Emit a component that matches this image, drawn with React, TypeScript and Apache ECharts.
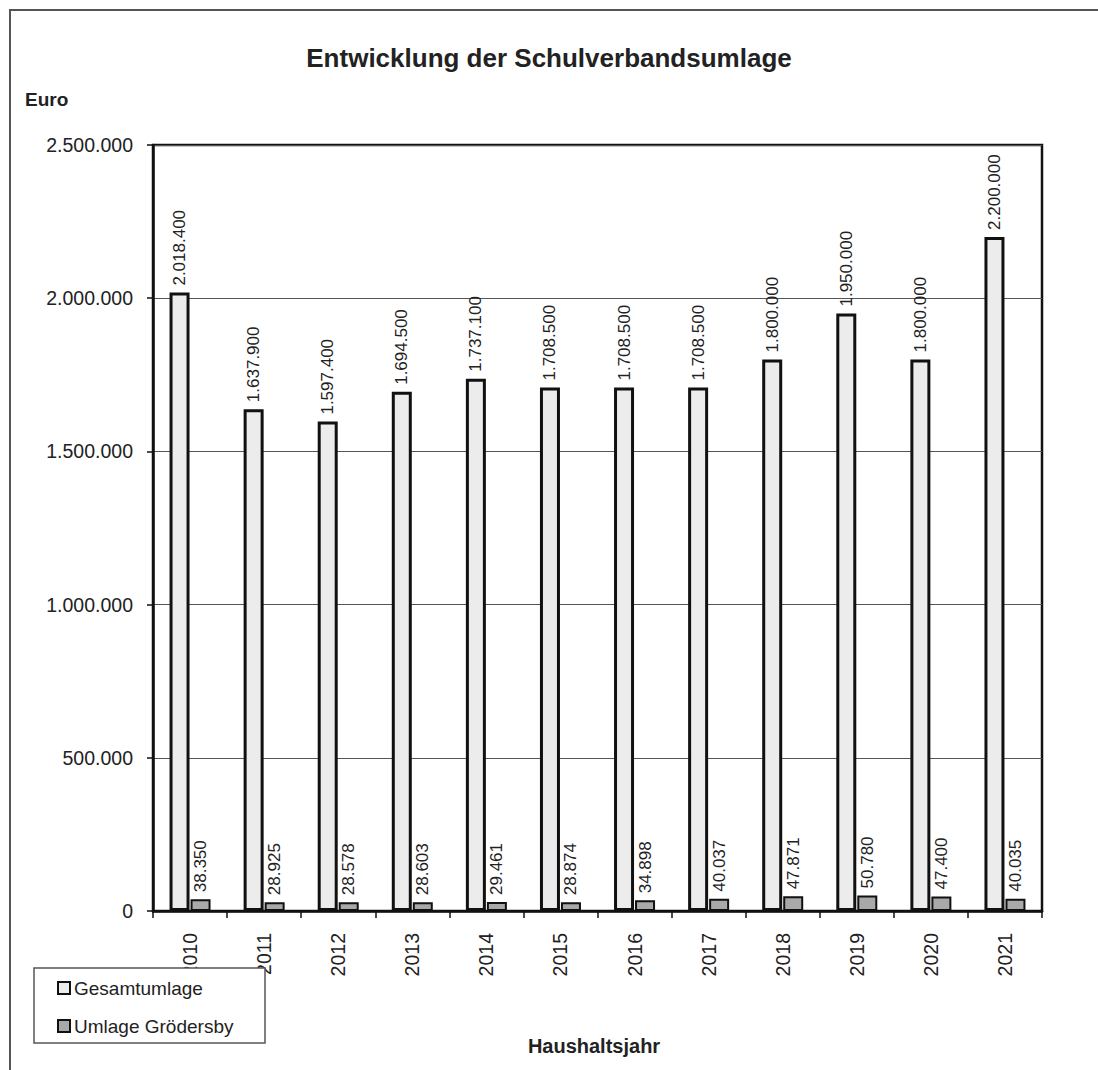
import React, { useEffect, useRef } from "react";
import * as echarts from "echarts";

// Haushaltsjahre (x axis categories)
const years = ["2010", "2011", "2012", "2013", "2014", "2015", "2016", "2017", "2018", "2019", "2020", "2021"];

// Gesamtumlage des Schulverbands in Euro
const gesamtumlage = [2018400, 1637900, 1597400, 1694500, 1737100, 1708500, 1708500, 1708500, 1800000, 1950000, 1800000, 2200000];

// Anteil der Gemeinde Grödersby in Euro
const umlageGroedersby = [38350, 28925, 28578, 28603, 29461, 28874, 34898, 40037, 47871, 50780, 47400, 40035];

// y axis range
const yMin = 0;
const yMax = 2500000;
const yStep = 500000;

const FONT = "'Liberation Sans', Arial, Helvetica, sans-serif";

// German thousands separator: 2018400 -> "2.018.400"
const fmt = (v: number) => String(Math.round(v)).replace(/\B(?=(\d{3})+(?!\d))/g, ".");

export default function App() {
  const ref = useRef<HTMLDivElement>(null);

  useEffect(() => {
    if (!ref.current) return;
    const chart = echarts.init(ref.current, null, { renderer: "svg" });

    const barLabel = {
      show: true,
      position: "top" as const,
      rotate: 90,
      align: "left" as const,
      verticalAlign: "middle" as const,
      distance: 7,
      fontFamily: FONT,
      fontSize: 17,
      color: "#222",
      formatter: (p: any) => fmt(p.value),
    };

    chart.setOption({
      animation: false,
      backgroundColor: "#fff",
      title: {
        text: "Entwicklung der Schulverbandsumlage",
        left: "center",
        top: 40,
        textStyle: { fontFamily: FONT, fontSize: 26, fontWeight: "bold", color: "#222" },
      },
      grid: {
        left: 153,
        top: 145,
        right: 56,
        bottom: 159,
        show: true,
        borderColor: "#111",
        borderWidth: 2.5,
        backgroundColor: "transparent",
      },
      legend: {
        orient: "vertical",
        left: 57,
        top: 978,
        padding: 0,
        itemGap: 18,
        itemWidth: 12,
        itemHeight: 12,
        icon: "rect",
        z: 30,
        itemStyle: { borderColor: "#111", borderWidth: 2 },
        textStyle: { fontFamily: FONT, fontSize: 19, color: "#222", lineHeight: 20, padding: [0, 0, 0, -1] },
        data: ["Gesamtumlage", "Umlage Grödersby"],
      },
      xAxis: {
        type: "category",
        data: years,
        boundaryGap: true,
        axisLine: { show: true, lineStyle: { color: "#111", width: 2.5 } },
        axisTick: { show: true, length: 7, lineStyle: { color: "#111", width: 1.5 } },
        axisLabel: {
          rotate: 90,
          margin: 22,
          fontFamily: FONT,
          fontSize: 19.5,
          color: "#222",
        },
      },
      yAxis: {
        type: "value",
        min: yMin,
        max: yMax,
        interval: yStep,
        axisLine: { show: true, lineStyle: { color: "#111", width: 2.5 } },
        axisTick: { show: true, length: 6, lineStyle: { color: "#111", width: 1.5 } },
        axisLabel: {
          margin: 20,
          fontFamily: FONT,
          fontSize: 19.5,
          color: "#222",
          formatter: (v: number) => fmt(v),
        },
        splitLine: { show: true, lineStyle: { color: "#555", width: 1.2 } },
      },
      series: [
        {
          name: "Gesamtumlage",
          type: "bar",
          data: gesamtumlage,
          barWidth: 20,
          barGap: "5%",
          itemStyle: { color: "#ececec", borderColor: "#111", borderWidth: 3 },
          label: barLabel,
        },
        {
          name: "Umlage Grödersby",
          type: "bar",
          data: umlageGroedersby,
          barWidth: 20,
          barGap: "5%",
          itemStyle: { color: "#a9a9a9", borderColor: "#111", borderWidth: 2 },
          label: barLabel,
        },
      ],
      graphic: [
        // outer chart frame
        {
          type: "rect",
          z: 1,
          silent: true,
          shape: { x: 10, y: 10, width: 1200, height: 1200 },
          style: { fill: "none", stroke: "#555", lineWidth: 2 },
        },
        {
          type: "text",
          left: 25,
          top: 90,
          style: { text: "Euro", fontFamily: FONT, fontSize: 19, fontWeight: "bold", fill: "#222" },
        },
        {
          type: "text",
          x: 594,
          y: 1046,
          style: {
            text: "Haushaltsjahr",
            fontFamily: FONT,
            fontSize: 20,
            fontWeight: "bold",
            fill: "#222",
            align: "center",
            verticalAlign: "middle",
          },
        },
        // legend box, drawn over the first axis label
        {
          type: "rect",
          z: 20,
          silent: true,
          shape: { x: 34, y: 968, width: 231, height: 75 },
          style: { fill: "#fff", stroke: "#555", lineWidth: 1.5 },
        },
      ],
    });

    return () => chart.dispose();
  }, []);

  return (
    <div
      ref={ref}
      style={{ position: "fixed", left: 0, top: 0, width: 1098, height: 1070, background: "#fff" }}
    />
  );
}
